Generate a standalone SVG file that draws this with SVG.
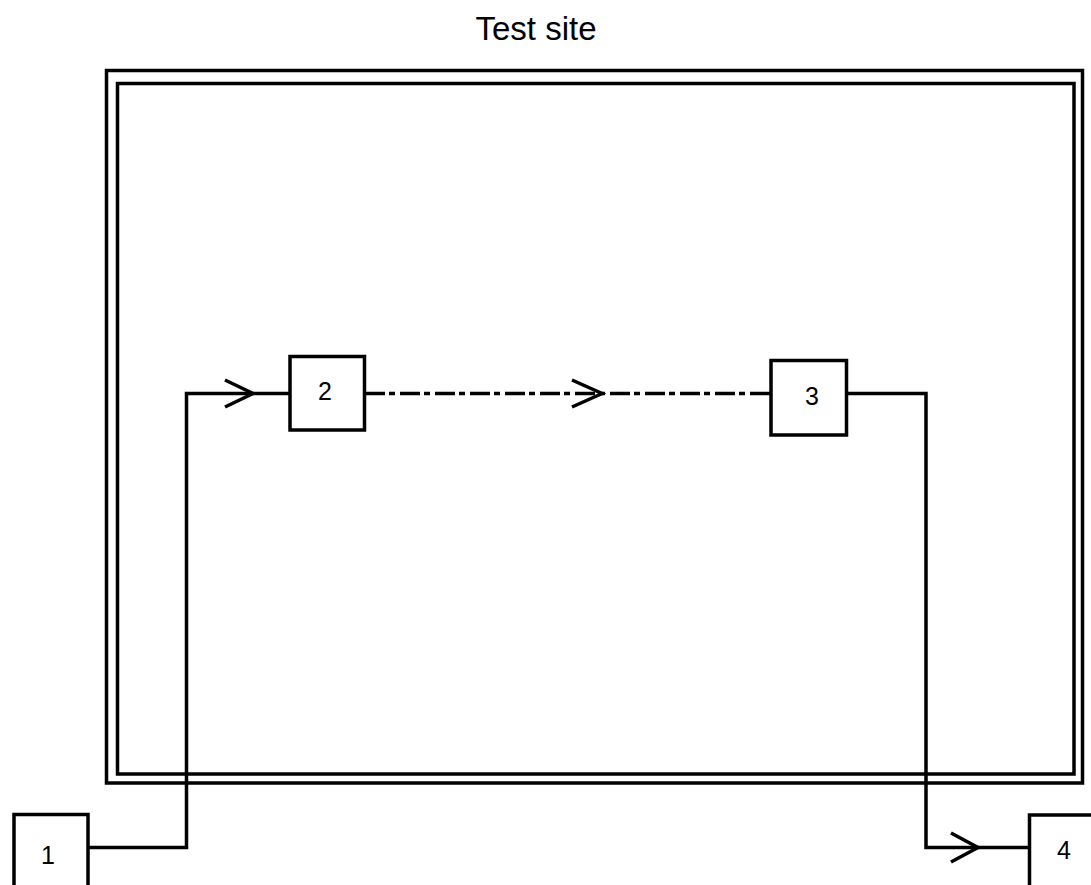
<svg xmlns="http://www.w3.org/2000/svg" width="1091" height="885" viewBox="0 0 1091 885">
<style>
.frame{fill:none;stroke:#000;stroke-width:3.5}
.box{fill:#fff;stroke:#000;stroke-width:3.5}
.lbl{font-family:"Liberation Sans",Arial,sans-serif;font-size:25px;fill:#000;text-anchor:middle}
.title{font-family:"Liberation Sans",Arial,sans-serif;font-size:33px;fill:#000;text-anchor:middle}
.wire{fill:none;stroke:#000;stroke-width:3.5}
.dashdot{fill:none;stroke:#000;stroke-width:3.5;stroke-dasharray:20 4 6 5}
.head{fill:none;stroke:#000;stroke-width:3.5}
</style>
<rect width="1091" height="885" fill="#fff"/>
<g id="site">
<rect class="frame" x="106.5" y="70.5" width="976" height="712.5"/>
<rect class="frame" x="117.5" y="83.5" width="956.5" height="690.5"/>
<text class="title" x="536" y="40">Test site</text>
</g>
<g id="connectors">
<polyline class="wire" points="88,847.5 186.5,847.5 186.5,393.5 290,393.5"/>
<polyline class="head" points="225,380 253,393.5 225,407"/>
<line class="dashdot" x1="365" y1="393.5" x2="771" y2="393.5"/>
<polyline class="head" points="572,380 602,393.5 572,407"/>
<polyline class="wire" points="846.5,393.5 926,393.5 926,847.5 1029.5,847.5"/>
<polyline class="head" points="951,833 978,847.5 951,862"/>
</g>
<g id="node1">
<rect class="box" x="14" y="814.5" width="74" height="80"/>
<text class="lbl" x="48" y="864">1</text>
</g>
<g id="node2">
<rect class="box" x="290" y="356.5" width="74.5" height="73.5"/>
<text class="lbl" x="325" y="400">2</text>
</g>
<g id="node3">
<rect class="box" x="771" y="360.5" width="75.5" height="74.5"/>
<text class="lbl" x="812" y="405">3</text>
</g>
<g id="node4">
<rect class="box" x="1029.5" y="815" width="74" height="80"/>
<text class="lbl" x="1064" y="859">4</text>
</g>
</svg>
